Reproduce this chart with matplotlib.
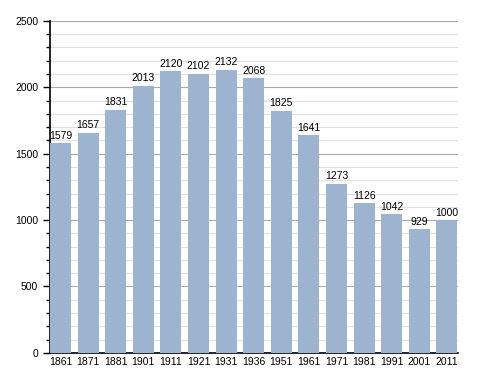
import matplotlib
matplotlib.use('Agg')
import matplotlib.pyplot as plt
from matplotlib.ticker import MultipleLocator

years = ['1861', '1871', '1881', '1901', '1911', '1921', '1931', '1936',
         '1951', '1961', '1971', '1981', '1991', '2001', '2011']
population = [1579, 1657, 1831, 2013, 2120, 2102, 2132, 2068,
              1825, 1641, 1273, 1126, 1042, 929, 1000]

plt.rcParams['font.family'] = ['Liberation Sans', 'DejaVu Sans']

fig = plt.figure(figsize=(4.88, 3.73), dpi=100)
ax = fig.add_axes([0.1025, 0.054, 0.836, 0.89])

x = list(range(len(years)))
w = 0.76
bars = ax.bar(x, population, width=w, align='edge', color='#9cb4cf', zorder=3)
for b, v in zip(bars, population):
    ax.text(b.get_x() + w / 2, v + 18, str(v), ha='center', va='bottom', fontsize=7.5, zorder=4)

ax.set_xticks([i + w / 2 for i in x])
ax.set_xticklabels(years, fontsize=7.5)
ax.tick_params(axis='x', length=0, pad=3)
ax.set_xlim(0, len(years) - 1 + w + 0.02)

ax.set_ylim(0, 2500)
ax.yaxis.set_major_locator(MultipleLocator(500))
ax.yaxis.set_minor_locator(MultipleLocator(100))
ax.tick_params(axis='y', which='major', length=5, labelsize=7.5, width=1)
ax.tick_params(axis='y', which='minor', length=3, width=1)
ax.grid(axis='y', which='major', color='#aaaaaa', linewidth=0.8, zorder=0)
ax.grid(axis='y', which='minor', color='#e0e0e0', linewidth=0.8, zorder=0)

for s in ['top', 'right']:
    ax.spines[s].set_visible(False)
ax.spines['left'].set_linewidth(1.2)
ax.spines['bottom'].set_linewidth(1.2)

fig.savefig('out.png', dpi=100)
